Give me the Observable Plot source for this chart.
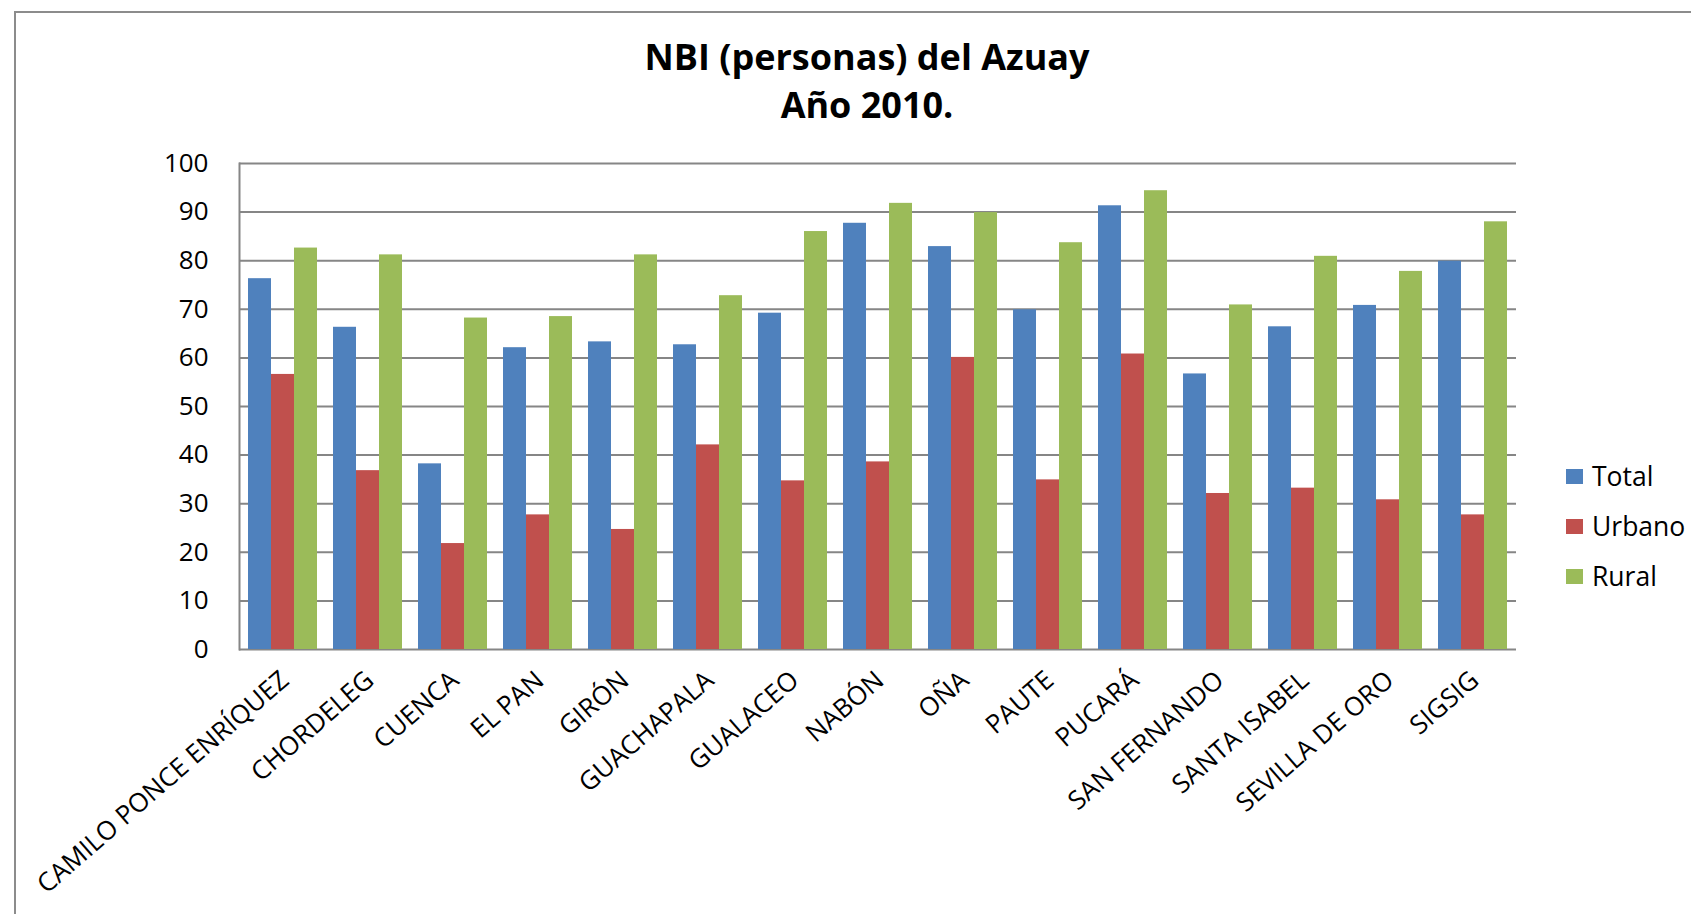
<!DOCTYPE html>
<html>
<head>
<meta charset="utf-8">
<script src="https://cdn.jsdelivr.net/npm/d3@7"></script>
<script src="https://cdn.jsdelivr.net/npm/@observablehq/plot@0.6"></script>
<style>
  html, body { margin: 0; padding: 0; background: #fff; overflow: hidden; }
  #page { position: relative; width: 1691px; height: 914px; overflow: hidden; font-family: "Open Sans", sans-serif; }
  #border { position: absolute; left: 14px; top: 11px; width: 2000px; height: 2000px; border: 2px solid #8c8c8c; box-sizing: border-box; }
  .title { position: absolute; left: 0; width: 1734px; text-align: center; font-weight: 700; font-size: 36px; color: #000; line-height: 1; }
  .layer { position: absolute; left: 0; top: 140px; }
  #legend { position: absolute; left: 1566px; top: 460px; }
  .item { position: relative; height: 50px; }
  .sw { position: absolute; left: 0; top: 9px; width: 17px; height: 15px; }
  .lab { position: absolute; left: 26px; top: 0; font-size: 26.5px; line-height: 32px; color: #000; }
</style>
</head>
<body>
<div id="page">
  <div id="border"></div>
  <div class="title" style="top:39px">NBI (personas) del Azuay</div>
  <div class="title" style="top:87px">Año 2010.</div>
  <div id="grid" class="layer"></div>
  <div id="chart" class="layer"></div>
  <div id="legend"></div>
</div>
<script>
const categories = ["CAMILO PONCE ENRÍQUEZ","CHORDELEG","CUENCA","EL PAN","GIRÓN","GUACHAPALA","GUALACEO","NABÓN","OÑA","PAUTE","PUCARÁ","SAN FERNANDO","SANTA ISABEL","SEVILLA DE ORO","SIGSIG"];
const series = ["Total","Urbano","Rural"];
const colors = ["#4F81BD","#C0504D","#9BBB59"];
const total  = [76.3,66.3,38.2,62.1,63.3,62.7,69.2,87.7,82.9,69.9,91.3,56.7,66.4,70.8,79.9];
const urbano = [56.6,36.8,21.8,27.7,24.7,42.1,34.7,38.6,60.1,34.9,60.8,32.1,33.2,30.8,27.7];
const rural  = [82.6,81.2,68.2,68.5,81.2,72.8,86.0,91.8,89.9,83.7,94.4,70.9,80.9,77.8,88.0];
const yTicks = [0,10,20,30,40,50,60,70,80,90,100];

const valuesBySeries = {Total: total, Urbano: urbano, Rural: rural};
const data = [];
categories.forEach((c, i) => {
  series.forEach(s => data.push({municipio: c, serie: s, valor: valuesBySeries[s][i]}));
});

const dims = {width: 1691, height: 774, marginLeft: 239, marginRight: 175, marginTop: 23, marginBottom: 265};
const style = {fontFamily: "Open Sans", color: "#000", background: "transparent"};

// Background layer: value axis, gridlines and left axis line
const grid = Plot.plot({
  ...dims,
  style,
  x: {domain: categories, axis: null},
  y: {domain: [0, 100], axis: null},
  marks: [
    Plot.gridY(yTicks, {stroke: "#868686", strokeOpacity: 1, strokeWidth: 2}),
    Plot.frame({anchor: "left", stroke: "#868686", strokeWidth: 2}),
    Plot.axisY(yTicks, {tickSize: 0, tickPadding: 31, fontSize: 26, fill: "#000", label: null})
  ]
});
document.getElementById("grid").appendChild(grid);

// Bars layer: grouped bars with municipality facets
const chart = Plot.plot({
  ...dims,
  style,
  fx: {domain: categories, paddingInner: 0.19, paddingOuter: 0.09, label: null},
  x: {domain: series, padding: 0, axis: null},
  y: {domain: [0, 100], axis: null},
  color: {domain: series, range: colors},
  marks: [
    Plot.barY(data, {fx: "municipio", x: "serie", y: "valor", fill: "serie"}),
    Plot.axisFx({anchor: "bottom", tickSize: 0, tickRotate: -41, textAnchor: "end", fontSize: 26, fill: "#000", tickPadding: 27, dx: 2, label: null})
  ]
});
document.getElementById("chart").appendChild(chart);

const legend = document.getElementById("legend");
series.forEach((s, i) => {
  const it = document.createElement("div");
  it.className = "item";
  it.innerHTML = `<div class="sw" style="background:${colors[i]}"></div><div class="lab">${s}</div>`;
  legend.appendChild(it);
});
</script>
</body>
</html>
